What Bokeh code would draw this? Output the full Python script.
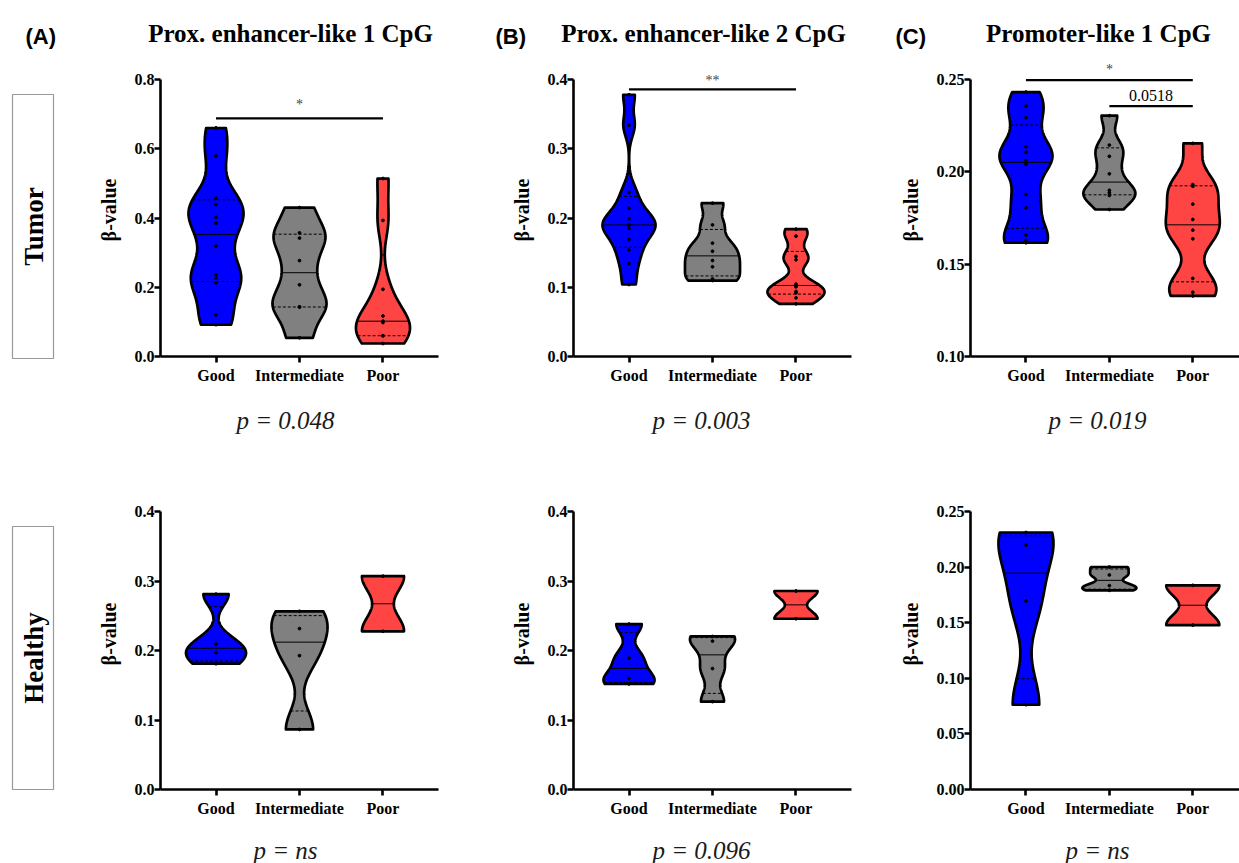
import numpy as np
from bokeh.plotting import figure
from bokeh.layouts import row, column
from bokeh.models import Range1d, FixedTicker
from bokeh.core.properties import value
from bokeh.embed import file_html
from bokeh.resources import INLINE

# ---------------- data ----------------
categories = ["Good", "Intermediate", "Poor"]
colors = ["#0000FF", "#808080", "#FF4444"]

panel_letters = ["(A)", "(B)", "(C)"]
panel_titles = ["Prox. enhancer-like 1 CpG", "Prox. enhancer-like 2 CpG", "Promoter-like 1 CpG"]
row_labels = ["Tumor", "Healthy"]
p_tumor = ["p = 0.048", "p = 0.003", "p = 0.019"]
p_healthy = ["p = ns", "p = 0.096", "p = ns"]

# Tumor beta-values
tumor_A_good = [0.092, 0.120, 0.213, 0.227, 0.236, 0.319, 0.385, 0.402, 0.439, 0.457, 0.579, 0.660]
tumor_A_inter = [0.054, 0.143, 0.143, 0.207, 0.277, 0.342, 0.357, 0.430]
tumor_A_poor = [0.0375, 0.060, 0.060, 0.098, 0.102, 0.117, 0.194, 0.393, 0.514]
tumor_B_good = [0.104, 0.134, 0.154, 0.169, 0.185, 0.190, 0.190, 0.199, 0.214, 0.237, 0.334, 0.378]
tumor_B_inter = [0.1097, 0.112, 0.1295, 0.1386, 0.152, 0.1637, 0.190, 0.2214]
tumor_B_poor = [0.0761, 0.0847, 0.0919, 0.0939, 0.1006, 0.1045, 0.1396, 0.1444, 0.1738, 0.1839]
tumor_C_good = [0.1616, 0.1628, 0.1657, 0.1805, 0.1877, 0.2041, 0.2061, 0.2106, 0.2136, 0.2293, 0.2356, 0.2432]
tumor_C_inter = [0.1796, 0.1872, 0.1886, 0.1900, 0.1989, 0.2084, 0.2145, 0.2304]
tumor_C_poor = [0.1328, 0.1348, 0.1423, 0.1637, 0.1684, 0.1742, 0.1825, 0.1922, 0.1931, 0.2154]

# Healthy beta-values
healthy_A_good = [0.181, 0.1969, 0.2094, 0.281]
healthy_A_inter = [0.0864, 0.1926, 0.2315, 0.2564]
healthy_A_poor = [0.2276, 0.3069]
healthy_B_good = [0.1519, 0.1596, 0.1889, 0.238]
healthy_B_inter = [0.1264, 0.174, 0.2135, 0.2202]
healthy_B_poor = [0.2457, 0.2856]
healthy_C_good = [0.0763, 0.1695, 0.2197, 0.2311]
healthy_C_inter = [0.1791, 0.1833, 0.1929, 0.2001]
healthy_C_poor = [0.1478, 0.1836]

# maximum violin widths (px), per panel column and group
violin_w_tumor = [[55, 54, 54], [53, 55, 57], [53, 52, 54]]
violin_w_healthy = [[60, 56, 42], [51, 45, 43], [55, 54, 53]]

# y ticks
ticks_tumor = [[0.0, 0.2, 0.4, 0.6, 0.8], [0.0, 0.1, 0.2, 0.3, 0.4], [0.10, 0.15, 0.20, 0.25]]
ticks_healthy = [[0.0, 0.1, 0.2, 0.3, 0.4], [0.0, 0.1, 0.2, 0.3, 0.4], [0.0, 0.05, 0.10, 0.15, 0.20, 0.25]]
tick_decimals = [1, 1, 2]

# significance brackets (from group, to group, level, label, label level)
sig_A = dict(x0=[1], x1=[3], y=[0.688], label=["*"], ly=[0.729])
sig_B = dict(x0=[1], x1=[3], y=[0.3856], label=["**"], ly=[0.398])
sig_C = dict(x0=[1, 2], x1=[3, 3], y=[0.2497, 0.2356], label=["*", "0.0518"], ly=[0.2556, 0.2414])

# ---------------- layout constants ----------------
TOTAL_W, TOTAL_H = 1239, 863
LEFT_W = 93
COL_W = [395, 397, 354]
BORDER_L = [67, 85, 85]
PX_PER_UNIT = 83.4
XR = [(0.335, 3.665), (0.335, 3.665), (0.335, 3.56)]
FRAME_W = [round((b - a) * PX_PER_UNIT) for a, b in XR]
HEADER_H = 63
TOP_FIG_H, TOP_FRAME_H, TOP_SPAN = 333, 293, 277
P1_H = 82
BOT_FIG_H, BOT_FRAME_H, BOT_SPAN = 343, 311, 278
P2_H = TOTAL_H - HEADER_H - TOP_FIG_H - P1_H - BOT_FIG_H

SERIF = value("Liberation Serif")
SANS = value("Liberation Sans")
BW_FACTOR = 0.55


def kde_profile(vals, half, n=120):
    v = np.asarray(vals, dtype=float)
    lo, hi = v.min(), v.max()
    sd = v.std(ddof=1)
    q1, q3 = np.percentile(v, [25, 75], method="weibull")
    iqr = (q3 - q1) / 1.34
    s = min(sd, iqr) if iqr > 0 else sd
    h = 0.9 * s * len(v) ** -0.2 * BW_FACTOR
    ys = np.linspace(lo, hi, n)
    dens = np.exp(-0.5 * ((ys[:, None] - v[None, :]) / h) ** 2).sum(axis=1)
    w = dens / dens.max() * half
    return ys, w


def text_fig(w, h, x0):
    p = figure(width=w, height=h, x_range=Range1d(x0, x0 + w), y_range=Range1d(h, 0),
               toolbar_location=None, output_backend="svg", x_axis_type=None, y_axis_type=None,
               min_border=0)
    p.outline_line_color = None
    p.grid.visible = False
    return p


def panel(groups, widths, ticks, dec, col, fig_h, frame_h, span, sig):
    w = COL_W[col]
    v0, vt = ticks[0], ticks[-1]
    y_end = v0 + (vt - v0) * frame_h / span
    p = figure(width=w, height=fig_h, x_range=Range1d(*XR[col]), y_range=Range1d(v0, y_end),
               toolbar_location=None, output_backend="svg",
               min_border_left=BORDER_L[col], min_border_right=w - BORDER_L[col] - FRAME_W[col],
               min_border_top=0, min_border_bottom=fig_h - frame_h)
    p.outline_line_color = None
    p.grid.visible = False

    for i, vals in enumerate(groups):
        xc = i + 1
        ys, wd = kde_profile(vals, widths[i] / 2 / PX_PER_UNIT)
        xs = np.concatenate([xc + wd, (xc - wd)[::-1]])
        yy = np.concatenate([ys, ys[::-1]])
        p.patch(xs, yy, fill_color=colors[i], line_color="black", line_width=2.7, line_join="round")
        qs = np.percentile(vals, [25, 50, 75], method="weibull")
        qw = np.interp(qs, ys, wd)
        p.segment(x0=[xc - qw[1]], y0=[qs[1]], x1=[xc + qw[1]], y1=[qs[1]], line_color="black", line_width=1)
        p.segment(x0=[xc - qw[0], xc - qw[2]], y0=[qs[0], qs[2]], x1=[xc + qw[0], xc + qw[2]], y1=[qs[0], qs[2]],
                  line_color="black", line_width=1, line_dash="3 2")
        p.scatter([xc] * len(vals), vals, size=2.8, color="black")

    if sig is not None:
        p.segment(x0=sig["x0"], y0=sig["y"], x1=sig["x1"], y1=sig["y"], line_color="black", line_width=2.2)
        for x0, x1, ly, lab in zip(sig["x0"], sig["x1"], sig["ly"], sig["label"]):
            numeric = lab[0].isdigit()
            p.text(x=[(x0 + x1) / 2], y=[ly], text=[lab], text_align="center", text_baseline="middle",
                   text_font=SERIF, text_font_size="16px" if numeric else "14px",
                   text_color="black" if numeric else "#444444")

    p.xaxis.ticker = FixedTicker(ticks=[1, 2, 3])
    p.xaxis.major_label_overrides = {i + 1: c for i, c in enumerate(categories)}
    p.yaxis.ticker = FixedTicker(ticks=ticks)
    p.yaxis.major_label_overrides = {t: f"{t:.{dec}f}" for t in ticks}
    p.yaxis.bounds = (v0, vt)
    p.yaxis.axis_label = "β-value"
    p.yaxis.axis_label_text_font = "Liberation Serif"
    p.yaxis.axis_label_text_font_style = "bold"
    p.yaxis.axis_label_text_font_size = "20px"
    p.yaxis.axis_label_text_color = "black"
    p.yaxis.axis_label_standoff = 12
    for ax in (p.xaxis, p.yaxis):
        ax.axis_line_width = 2.6
        ax.axis_line_color = "black"
        ax.major_tick_line_width = 2.6
        ax.major_tick_line_color = "black"
        ax.major_tick_out = 6
        ax.major_tick_in = 0
        ax.minor_tick_line_color = None
        ax.major_label_text_font = "Liberation Serif"
        ax.major_label_text_font_style = "bold"
        ax.major_label_text_font_size = "16px"
        ax.major_label_text_color = "black"
    p.yaxis.major_label_standoff = 0
    p.xaxis.major_label_standoff = 4
    return p


tumor_groups = [[tumor_A_good, tumor_A_inter, tumor_A_poor],
                [tumor_B_good, tumor_B_inter, tumor_B_poor],
                [tumor_C_good, tumor_C_inter, tumor_C_poor]]
healthy_groups = [[healthy_A_good, healthy_A_inter, healthy_A_poor],
                  [healthy_B_good, healthy_B_inter, healthy_B_poor],
                  [healthy_C_good, healthy_C_inter, healthy_C_poor]]
sigs = [sig_A, sig_B, sig_C]

top_figs = [panel(tumor_groups[c], violin_w_tumor[c], ticks_tumor[c], tick_decimals[c], c,
                  TOP_FIG_H, TOP_FRAME_H, TOP_SPAN, sigs[c]) for c in range(3)]
bot_figs = [panel(healthy_groups[c], violin_w_healthy[c], ticks_healthy[c], tick_decimals[c], c,
                  BOT_FIG_H, BOT_FRAME_H, BOT_SPAN, None) for c in range(3)]

# header with titles
RIGHT_W = TOTAL_W - LEFT_W
header = text_fig(RIGHT_W, HEADER_H, LEFT_W)
title_x = [290, 703, 1098]
header.text(x=title_x, y=[33] * 3, text=panel_titles, text_align="center", text_baseline="alphabetic",
            text_font=SERIF, text_font_style="bold", text_font_size="25px", text_color="black")
header.text(x=[495, 895], y=[35.5, 35.5], text=panel_letters[1:], text_align="left", text_baseline="alphabetic",
            text_font=SANS, text_font_style="bold", text_font_size="22px", text_color="black")

# p-value rows
p_x = [285, 701, 1097]
prow1 = text_fig(RIGHT_W, P1_H, LEFT_W)
prow1.text(x=p_x, y=[24] * 3, text=p_tumor, text_align="center", text_baseline="middle",
           text_font=SERIF, text_font_style="italic", text_font_size="25px", text_color="#1a1a1a")
prow2 = text_fig(RIGHT_W, P2_H, LEFT_W)
prow2.text(x=p_x, y=[29] * 3, text=p_healthy, text_align="center", text_baseline="middle",
           text_font=SERIF, text_font_style="italic", text_font_size="25px", text_color="#1a1a1a")

# left strip with row labels
left = text_fig(LEFT_W, TOTAL_H, 0)
left.text(x=[25], y=[35.5], text=[panel_letters[0]], text_align="left", text_baseline="alphabetic",
          text_font=SANS, text_font_style="bold", text_font_size="22px", text_color="black")
left.quad(left=[12, 12], right=[53, 53], top=[94, 526], bottom=[358, 789],
          fill_color=None, line_color="#999999", line_width=1.2)
left.text(x=[33, 33], y=[226, 657.5], text=row_labels, angle=np.pi / 2, text_align="center",
          text_baseline="middle", text_font=SERIF, text_font_style="bold", text_font_size="27px",
          text_color="black")

layout = row(left, column(header, row(*top_figs), prow1, row(*bot_figs), prow2))

open("out.html", "w").write(file_html(layout, INLINE))
